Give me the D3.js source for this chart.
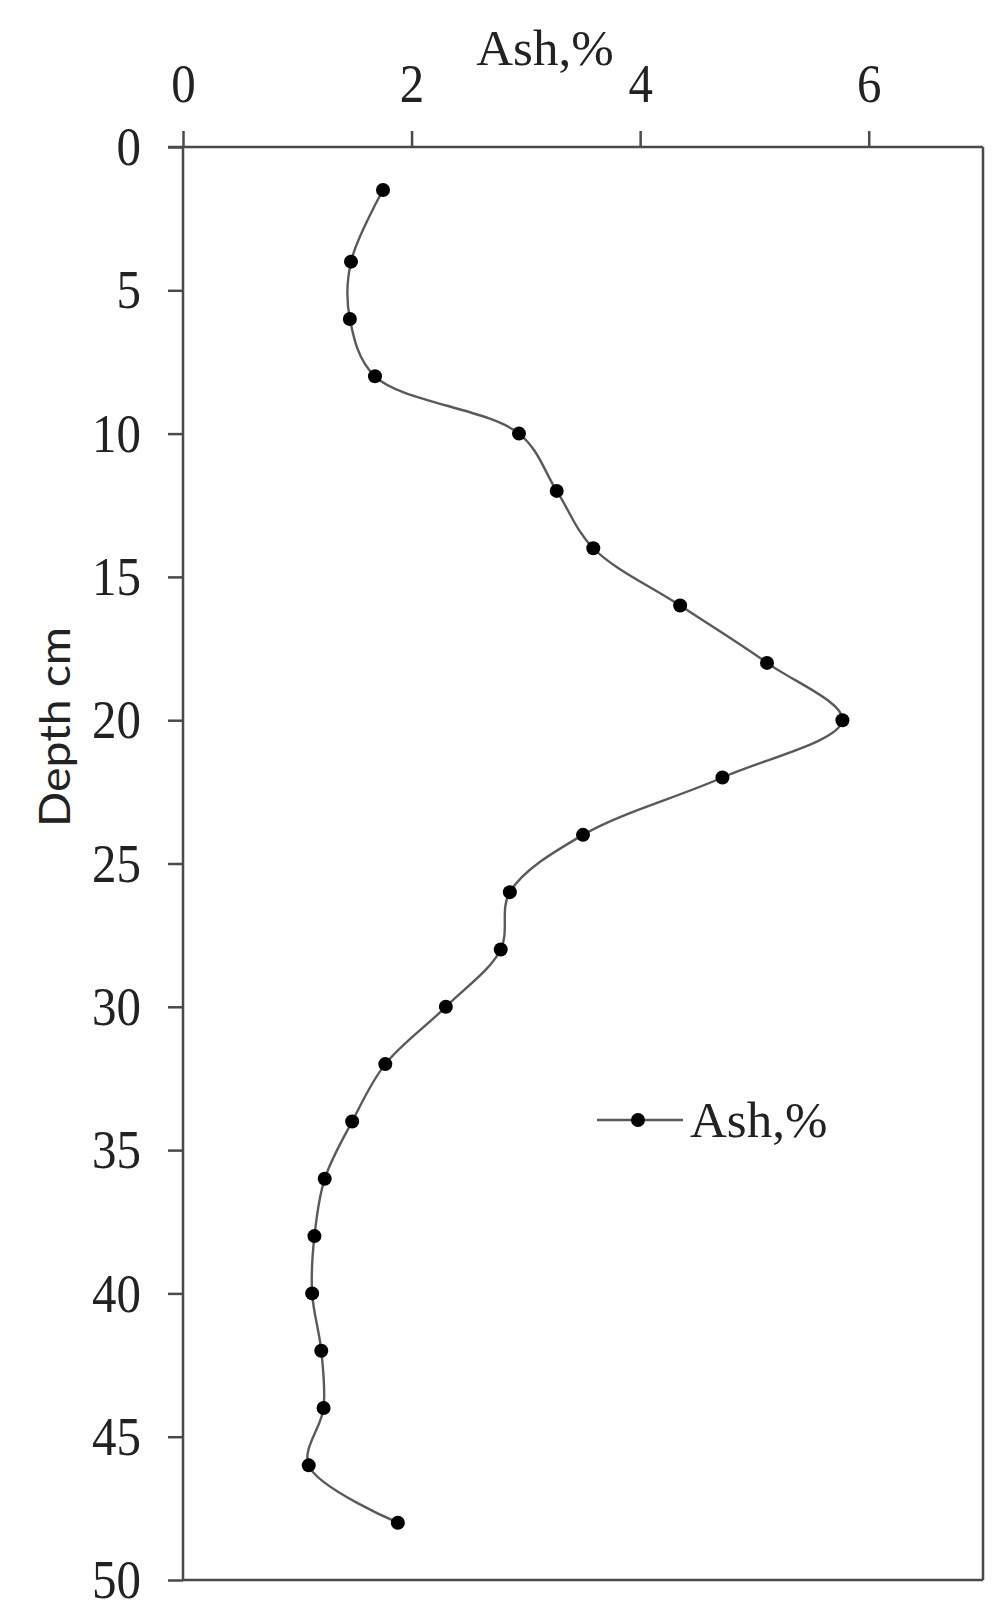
<!DOCTYPE html>
<html><head><meta charset="utf-8">
<script src="https://cdn.jsdelivr.net/npm/d3@7"></script>
<style>html,body{margin:0;padding:0;background:#fff;}</style>
</head><body>
<svg id="chart" width="1004" height="1611"></svg>
<script>
const depth = [1.5,4,6,8,10,12,14,16,18,20,22,24,26,28,30,32,34,36,38,40,42,44,46,48];
const ash = [1.75,1.47,1.46,1.68,2.94,3.27,3.59,4.35,5.11,5.77,4.72,3.50,2.86,2.78,2.30,1.77,1.48,1.24,1.15,1.13,1.21,1.23,1.10,1.88];
const xTicks = [0,2,4,6];
const yTicks = [0,5,10,15,20,25,30,35,40,45,50];
const seriesName = "Ash,%";
const xTitle = "Ash,%";
const yTitle = "Depth cm";

const svg = d3.select("#chart");
const L = 183, R = 983, T = 147, B = 1580;
const x = d3.scaleLinear().domain([0,7]).range([L,R]);
const y = d3.scaleLinear().domain([0,50]).range([T,B]);
const axisColor = "#4a4a4a";
const serif = "'Liberation Serif','Times New Roman',serif";

// frame right & bottom
svg.append("line").attr("x1",R).attr("x2",R).attr("y1",T).attr("y2",B)
  .attr("stroke",axisColor).attr("stroke-width",2.5);
svg.append("line").attr("x1",L).attr("x2",R).attr("y1",B).attr("y2",B)
  .attr("stroke",axisColor).attr("stroke-width",2.5);

const xAxis = svg.append("g").attr("transform",`translate(0,${T})`)
  .call(d3.axisTop(x).tickValues(xTicks).tickFormat(d3.format("d")).tickSize(16).tickPadding(29).tickSizeOuter(0));
const yAxis = svg.append("g").attr("transform",`translate(${L},0)`)
  .call(d3.axisLeft(y).tickValues(yTicks).tickFormat(d3.format("d")).tickSize(15).tickPadding(27).tickSizeOuter(0));
[xAxis,yAxis].forEach(g=>{
  g.select(".domain").attr("stroke",axisColor).attr("stroke-width",2.5);
  g.selectAll(".tick line").attr("stroke",axisColor).attr("stroke-width",2.5);
  g.selectAll(".tick text").attr("fill","#222").attr("font-family",serif).attr("font-size",55)
    .each(function(){
      const w = this.getComputedTextLength();
      d3.select(this).attr("textLength", w*0.89).attr("lengthAdjust","spacingAndGlyphs");
    });
});
xAxis.select(".domain").attr("d",`M${L-15},0H${R}`);
yAxis.select(".domain").attr("d",`M0,${T}V${B}`);

// titles
svg.append("text").attr("x",(L+R)/2 - 38).attr("y",65).attr("text-anchor","middle")
  .attr("font-family",serif).attr("font-size",51).attr("fill","#222").text(xTitle);
svg.append("text").attr("transform","translate(70,727) rotate(-90)").attr("text-anchor","middle")
  .attr("font-family","Lato,'Liberation Sans',sans-serif").attr("font-size",42).attr("fill","#222")
  .attr("textLength",200).attr("lengthAdjust","spacingAndGlyphs").text(yTitle);

// series
const pts = depth.map((d,i)=>({d, v:ash[i]}));
const line = d3.line().x(p=>x(p.v)).y(p=>y(p.d)).curve(d3.curveCatmullRom.alpha(0.5));
svg.append("path").datum(pts).attr("d",line).attr("fill","none")
  .attr("stroke","#5a5a5a").attr("stroke-width",2.4);
svg.selectAll("circle.pt").data(pts).join("circle").attr("class","pt")
  .attr("cx",p=>x(p.v)).attr("cy",p=>y(p.d)).attr("r",7).attr("fill","#000");

// legend
const lg = svg.append("g");
lg.append("line").attr("x1",597).attr("x2",683).attr("y1",1120).attr("y2",1120)
  .attr("stroke","#5a5a5a").attr("stroke-width",2.4);
lg.append("circle").attr("cx",638).attr("cy",1120).attr("r",7).attr("fill","#000");
lg.append("text").attr("x",690).attr("y",1137).attr("font-family",serif).attr("font-size",51)
  .attr("fill","#222").text(seriesName);
</script>
</body></html>
